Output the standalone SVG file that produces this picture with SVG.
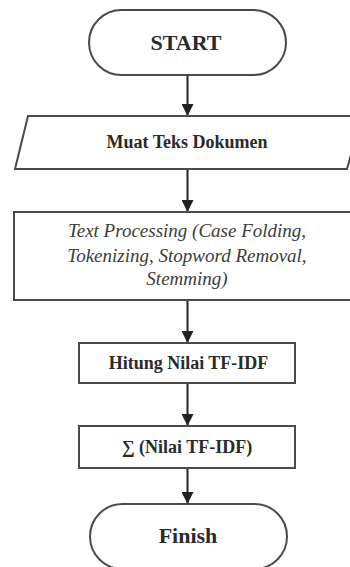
<svg xmlns="http://www.w3.org/2000/svg" width="350" height="567" viewBox="0 0 350 567">
<defs>
<marker id="ah" viewBox="0 0 12 12" refX="12" refY="6" markerWidth="12" markerHeight="12" markerUnits="userSpaceOnUse" orient="auto">
<path d="M0,0 L12,6 L0,12 Z" fill="#222"/>
</marker>
<style>
.shape{fill:#fff;stroke:#4a4a4a;stroke-width:2}
.t{font-family:'Liberation Serif','Times New Roman',serif;fill:#2a2a2a;text-anchor:middle}
.big{font-size:22px;font-weight:bold}
.mid{font-size:18px;font-weight:bold}
.it{font-size:19px;font-style:italic;fill:#3c3c3c}
.conn{stroke:#222;stroke-width:2;fill:none;marker-end:url(#ah)}
</style>
</defs>
<rect width="350" height="567" fill="#fff"/>
<g id="connectors">
<line class="conn" x1="187.5" y1="75" x2="187.5" y2="116"/>
<line class="conn" x1="187.5" y1="169" x2="187.5" y2="212"/>
<line class="conn" x1="187.5" y1="300" x2="187.5" y2="343"/>
<line class="conn" x1="187.5" y1="383" x2="187.5" y2="426"/>
<line class="conn" x1="187.5" y1="468" x2="187.5" y2="504"/>
</g>
<g id="start">
<rect class="shape" x="89" y="10" width="197" height="65" rx="32.5"/>
<text class="t big" x="186" y="50">START</text>
</g>
<g id="muat">
<polygon class="shape" points="28,116 362,116 347,169 15,169"/>
<text class="t mid" x="187" y="148">Muat Teks Dokumen</text>
</g>
<g id="textproc">
<rect class="shape" x="14" y="212" width="350" height="88"/>
<text class="t it" x="187" y="237">Text Processing (Case Folding,</text>
<text class="t it" x="187" y="262">Tokenizing, Stopword Removal,</text>
<text class="t it" x="187" y="285">Stemming)</text>
</g>
<g id="hitung">
<rect class="shape" x="79" y="343" width="216" height="40"/>
<text class="t mid" x="188.5" y="369">Hitung Nilai TF-IDF</text>
</g>
<g id="sum">
<rect class="shape" x="79" y="426" width="216" height="42"/>
<text class="t mid" x="187" y="453">∑ (Nilai TF-IDF)</text>
</g>
<g id="finish">
<rect class="shape" x="90" y="504" width="197" height="65" rx="32.5"/>
<text class="t big" x="188" y="543">Finish</text>
</g>
</svg>
